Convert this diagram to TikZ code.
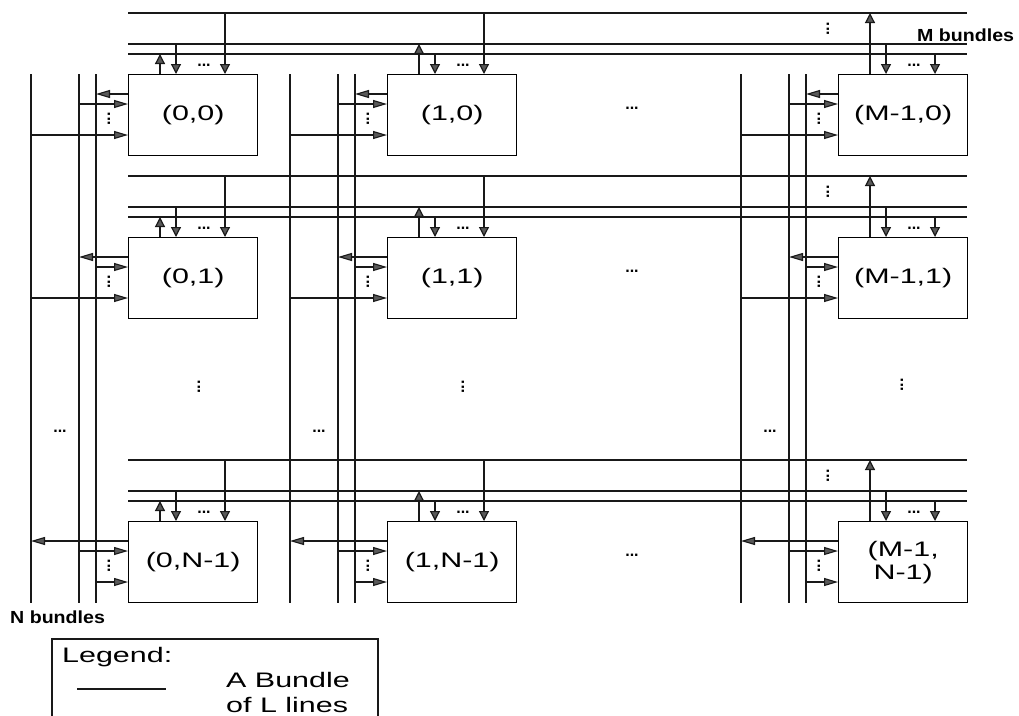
\documentclass[tikz,border=0pt]{standalone}
\usepackage{fontspec}
\setmainfont{Liberation Sans}
\newfontfamily\widefont[FakeStretch=1.45]{Liberation Sans}
\newfontfamily\bundlefont[FakeStretch=1.12]{Liberation Sans}
\usetikzlibrary{arrows.meta,calc}
\begin{document}
\begin{tikzpicture}[x=1pt,y=-1pt,
  bus/.style={line width=1.2pt, black!90},
  cell/.style={draw, line width=1.4pt, minimum width=129pt, minimum height=81pt,
    inner sep=0pt, anchor=north west, align=center,
    font=\widefont\fontsize{21}{23}\selectfont},
  varr/.style={line width=1.2pt, black!90, -{Triangle[length=10pt,width=10pt,fill=black!65]}},
  harr/.style={line width=1.1pt, black!90, -{Triangle[length=14pt,width=8pt,fill=black!65]}},
  dots/.style={inner sep=0pt, font=\bfseries\fontsize{16}{16}\selectfont},
  vdots/.style={dots, rotate=90},
  bundles/.style={anchor=base west, inner sep=0pt, font=\bundlefont\bfseries\fontsize{17.5}{17.5}\selectfont},
  legtext/.style={anchor=base west, inner sep=0pt, font=\widefont\fontsize{21}{23}\selectfont}]
\useasboundingbox (0,0) rectangle (1019,715);

% vertical bundles
\foreach \c/\cx in {0/128,1/387,2/838}{
  \foreach \k/\dx in {1/97,2/49,3/32}{
    \coordinate (V\k-\c-t) at (\cx-\dx,74);
    \coordinate (V\k-\c-b) at (\cx-\dx,603);
    \draw[bus] (V\k-\c-t) -- (V\k-\c-b);
  }
  \node[dots] (hd-\c) at (\cx-68,431) {...};
}

% horizontal bundles
\foreach \r/\ry in {0/74,1/237,2/521}{
  \foreach \k/\dy in {1/61,2/30,3/20}{
    \coordinate (L\k-\r-w) at (128,\ry-\dy);
    \coordinate (L\k-\r-e) at (967,\ry-\dy);
    \draw[bus] (L\k-\r-w) -- (L\k-\r-e);
  }
  \node[dots] (md-\r) at (632,\ry+34) {...};
  \node[vdots] (rd-\r) at (828,\ry-45) {...};
}

% cells
\node[cell] (b-0-0) at (128,74) {(0,0)};
\node[cell] (b-1-0) at (387,74) {(1,0)};
\node[cell] (b-2-0) at (838,74) {(M-1,0)};
\node[cell] (b-0-1) at (128,237) {(0,1)};
\node[cell] (b-1-1) at (387,237) {(1,1)};
\node[cell] (b-2-1) at (838,237) {(M-1,1)};
\node[cell] (b-0-2) at (128,521) {(0,N-1)};
\node[cell] (b-1-2) at (387,521) {(1,N-1)};
\node[cell] (b-2-2) at (838,521) {(M-1,\\N-1)};

% connectors
\foreach \c/\up/\da/\db in {0/3/2/1,1/2/3/1,2/1/2/3}{
  \foreach \r/\lt/\ra/\rb in {0/3/2/1,1/2/3/1,2/1/2/3}{
    \path (b-\c-\r.north west) ++(32,0) coordinate (u-\c-\r)
          (b-\c-\r.north west) ++(48,0) coordinate (da-\c-\r)
          (b-\c-\r.north west) ++(97,0) coordinate (db-\c-\r)
          (b-\c-\r.north west) ++(0,20) coordinate (lo-\c-\r)
          (b-\c-\r.north west) ++(0,30) coordinate (ra-\c-\r)
          (b-\c-\r.north west) ++(0,61) coordinate (rb-\c-\r);
    \draw[varr] (u-\c-\r) -- (u-\c-\r |- L\up-\r-w);
    \draw[varr] (da-\c-\r |- L\da-\r-w) -- (da-\c-\r);
    \draw[varr] (db-\c-\r |- L\db-\r-w) -- (db-\c-\r);
    \draw[harr] (lo-\c-\r) -- (lo-\c-\r -| V\lt-\c-t);
    \draw[harr] (ra-\c-\r -| V\ra-\c-t) -- (ra-\c-\r);
    \draw[harr] (rb-\c-\r -| V\rb-\c-t) -- (rb-\c-\r);
    \node[dots] (td-\c-\r) at ($(b-\c-\r.north west)+(76,-9)$) {...};
    \node[vdots] (ld-\c-\r) at ($(b-\c-\r.north west)+(-19,45)$) {...};
  }
}

% middle vertical dots
\node[vdots] (cd-0) at (199,387) {...};
\node[vdots] (cd-1) at (463,387) {...};
\node[vdots] (cd-2) at (902,385) {...};

% bundle labels
\node[bundles] (mb) at (917,41) {M bundles};
\node[bundles] (nb) at (10,623) {N bundles};

% legend
\draw[line width=1.2pt, black!90] (52,716) -- (52,639) -- (378,639) -- (378,716);
\coordinate (lg-a) at (77,689);
\coordinate (lg-b) at (166,689);
\draw[bus] (lg-a) -- (lg-b);
\node[legtext] (lg-t) at (62,662) {Legend:};
\node[legtext] (lg-1) at (226,687) {A Bundle};
\node[legtext] (lg-2) at (226,712) {of L lines};
\end{tikzpicture}
\end{document}
